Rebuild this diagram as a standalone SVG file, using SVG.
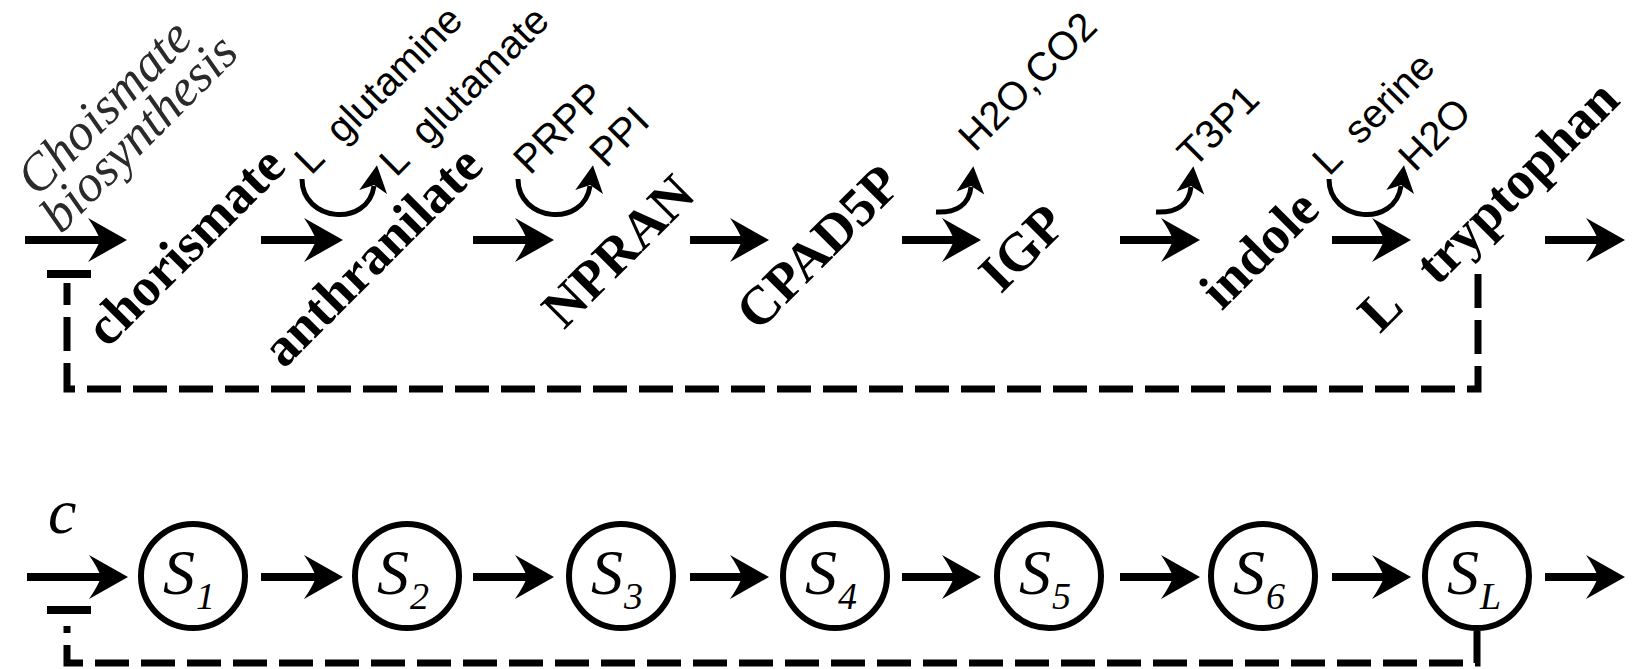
<svg xmlns="http://www.w3.org/2000/svg" width="1633" height="669" viewBox="0 0 1633 669">
<defs>
<marker id="ah" markerUnits="userSpaceOnUse" viewBox="-20 -30 60 60" markerWidth="60" markerHeight="60" refX="2" refY="0" orient="auto">
<path d="M27,0 L-12,-22 Q-3,-9 0,0 Q-3,9 -12,22 Z" fill="#000"/>
</marker>
<marker id="ahs" markerUnits="userSpaceOnUse" viewBox="-10 -20 40 40" markerWidth="40" markerHeight="40" refX="3" refY="0" orient="auto">
<path d="M24,0 L-3,-14 L4,0 L-3,14 Z" fill="#000"/>
</marker>
<style>
.flow{stroke:#000;stroke-width:8;fill:none;marker-end:url(#ah)}
.curl{stroke:#000;stroke-width:5;fill:none;marker-end:url(#ahs)}
.fb{stroke:#000;stroke-width:7;fill:none;stroke-dasharray:34 12}
.bar{stroke:#000;stroke-width:8}
.met{font-weight:bold;font-size:54px;text-anchor:middle;fill:#000}
.sm{font-size:40px;fill:#000}
.it{font-style:italic;font-size:52px;text-anchor:middle;fill:#2a2a2a}
.node{fill:#fff;stroke:#000;stroke-width:6}
.sv{font-style:italic;font-size:64px;fill:#000}
.sub{font-size:38px}
</style>
</defs>

<!-- upper row: pathway with metabolite names -->
<g id="connectors-top">
<path class="flow" d="M25,240 H102"/>
<path class="flow" d="M261,240 H318"/>
<path class="flow" d="M473,240 H529"/>
<path class="flow" d="M690,240 H744"/>
<path class="flow" d="M902,240 H956"/>
<path class="flow" d="M1120,240 H1175"/>
<path class="flow" d="M1332,240 H1386"/>
<path class="flow" d="M1545,240 H1600"/>
<path class="curl" d="M302,179 C302,222 368,228 374,186"/>
<path class="curl" d="M518,179 C518,222 584,228 590,186"/>
<path class="curl" d="M936,212 C956,213 969,205 971,187"/>
<path class="curl" d="M1156,212 C1176,213 1189,205 1191,187"/>
<path class="curl" d="M1329,179 C1329,222 1395,228 1401,186"/>
<path class="fb" d="M1478,274 V389 H67 V283"/>
<path class="bar" d="M47,274 H91"/>
</g>

<g id="source-label" font-family="Liberation Serif, serif">
<text class="it" transform="translate(104,107) rotate(-45)" y="17">Choismate</text>
<text class="it" transform="translate(143,137) rotate(-45)" y="11">biosynthesis</text>
</g>
<g id="metabolites" font-family="Liberation Serif, serif">
<g id="chorismate"><text class="met" transform="translate(185,246) rotate(-45)" y="18">chorismate</text></g>
<g id="anthranilate"><text class="met" transform="translate(372,256) rotate(-45)" y="18">anthranilate</text></g>
<g id="npran"><text class="met" transform="translate(618,251) rotate(-45)" y="18">NPRAN</text></g>
<g id="cpad5p"><text class="met" transform="translate(818,247) rotate(-45)" y="18">CPAD5P</text></g>
<g id="igp"><text class="met" transform="translate(1022,248) rotate(-45)" y="18">IGP</text></g>
<g id="indole"><text class="met" transform="translate(1259,249) rotate(-45)" y="18">indole</text></g>
<g id="tryptophan">
<text class="met" transform="translate(1380,309) rotate(-45)" y="18">L</text>
<text class="met" transform="translate(1521,186) rotate(-45)" y="12">tryptophan</text>
</g>
</g>

<g id="cosubstrates" font-family="Liberation Sans, Arial, sans-serif">
<text class="sm" transform="translate(311,176) rotate(-45)">L<tspan dx="12"> glutamine</tspan></text>
<text class="sm" transform="translate(396,178) rotate(-45)">L<tspan dx="12"> glutamate</tspan></text>
<text class="sm" transform="translate(530,176) rotate(-45)">PRPP</text>
<text class="sm" transform="translate(606,169) rotate(-45)">PPI</text>
<text class="sm" transform="translate(975,153) rotate(-45)">H2O,CO2</text>
<text class="sm" transform="translate(1194,169) rotate(-45)">T3P1</text>
<text class="sm" transform="translate(1329,177) rotate(-45)">L<tspan dx="12"> serine</tspan></text>
<text class="sm" transform="translate(1415,173) rotate(-45)">H2O</text>
</g>

<!-- lower row: abstract chain of states -->
<g id="connectors-bottom">
<path class="flow" d="M27,577 H103"/>
<path class="flow" d="M261,577 H318"/>
<path class="flow" d="M473,577 H529"/>
<path class="flow" d="M690,577 H744"/>
<path class="flow" d="M902,577 H956"/>
<path class="flow" d="M1120,577 H1175"/>
<path class="flow" d="M1332,577 H1386"/>
<path class="flow" d="M1545,577 H1600"/>
<path class="fb" d="M1477,631 V663 H67 V626"/>
<path class="bar" d="M47,610 H91"/>
</g>
<g id="states" font-family="Liberation Serif, serif">
<g id="input-c"><text class="sv" x="48" y="533" font-size="52">c</text></g>
<g id="S1"><circle class="node" cx="193" cy="576" r="52"/><text class="sv" x="163" y="594">S<tspan class="sub" dx="1" dy="15">1</tspan></text></g>
<g id="S2"><circle class="node" cx="407" cy="576" r="52"/><text class="sv" x="377" y="594">S<tspan class="sub" dx="1" dy="15">2</tspan></text></g>
<g id="S3"><circle class="node" cx="621" cy="576" r="52"/><text class="sv" x="591" y="594">S<tspan class="sub" dx="1" dy="15">3</tspan></text></g>
<g id="S4"><circle class="node" cx="835" cy="576" r="52"/><text class="sv" x="805" y="594">S<tspan class="sub" dx="1" dy="15">4</tspan></text></g>
<g id="S5"><circle class="node" cx="1049" cy="576" r="52"/><text class="sv" x="1019" y="594">S<tspan class="sub" dx="1" dy="15">5</tspan></text></g>
<g id="S6"><circle class="node" cx="1263" cy="576" r="52"/><text class="sv" x="1233" y="594">S<tspan class="sub" dx="1" dy="15">6</tspan></text></g>
<g id="SL"><circle class="node" cx="1477" cy="576" r="52"/><text class="sv" x="1447" y="594">S<tspan class="sub" dx="1" dy="15">L</tspan></text></g>
</g>
</svg>
